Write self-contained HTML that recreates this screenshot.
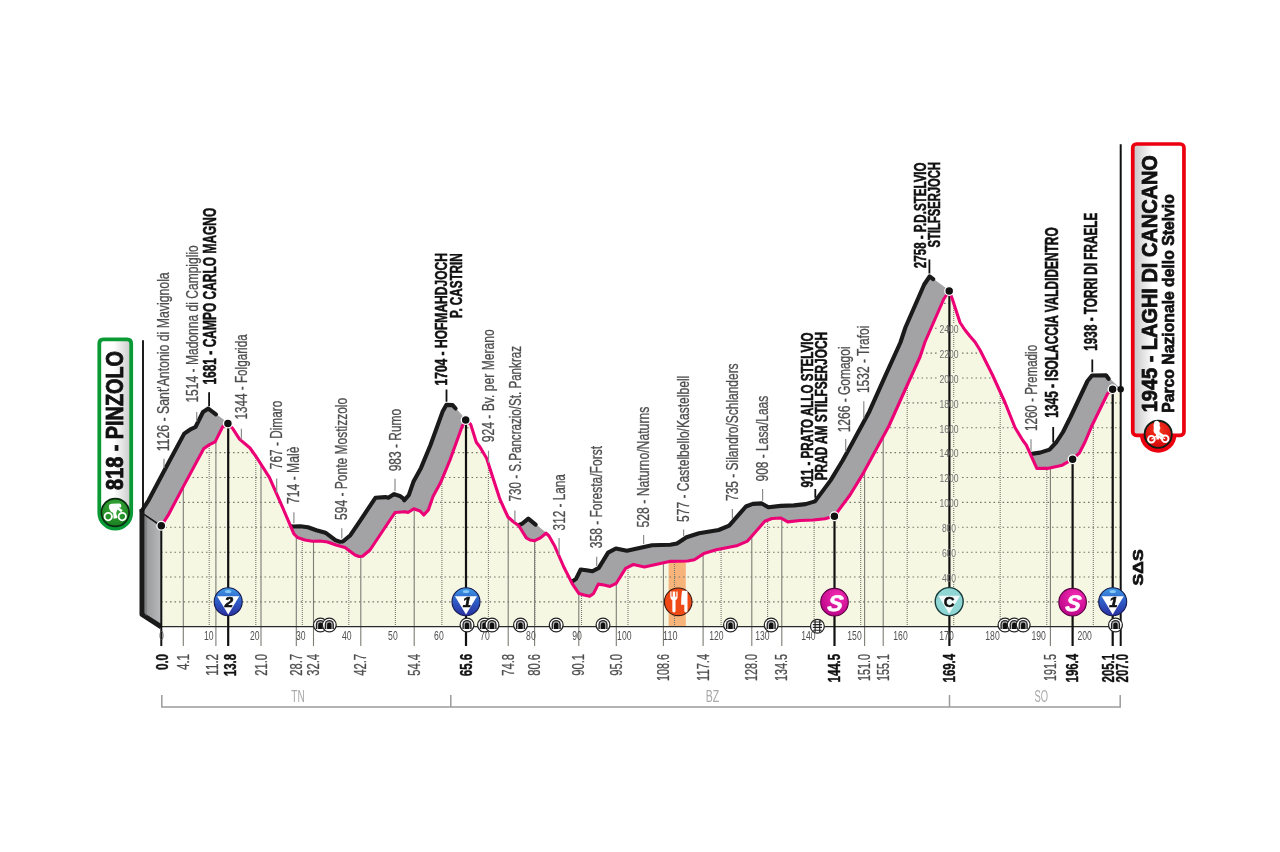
<!DOCTYPE html>
<html lang="it"><head><meta charset="utf-8"><title>Pinzolo - Laghi di Cancano</title>
<style>
html,body{margin:0;padding:0;background:#fff;}
body{width:1280px;height:852px;overflow:hidden;}
svg{display:block;}
text{font-family:"Liberation Sans",sans-serif;}
.b{font-weight:bold;}
</style></head><body>
<svg width="1280" height="852" viewBox="0 0 1280 852">
<defs>
<linearGradient id="gKom" x1="0" y1="0" x2="0" y2="1"><stop offset="0" stop-color="#3f9be6"/><stop offset="0.45" stop-color="#2f5fc8"/><stop offset="1" stop-color="#2a2fa0"/></linearGradient>
<radialGradient id="gSpr" cx="0.6" cy="0.3" r="0.8"><stop offset="0" stop-color="#f52cb4"/><stop offset="1" stop-color="#b50083"/></radialGradient>
<linearGradient id="gWall" x1="0" y1="0" x2="1" y2="0"><stop offset="0" stop-color="#8f9092"/><stop offset="1" stop-color="#b9babc"/></linearGradient>
<linearGradient id="gGreen" x1="0" y1="0" x2="1" y2="0"><stop offset="0" stop-color="#ffffff"/><stop offset="0.45" stop-color="#ffffff"/><stop offset="1" stop-color="#c9c9c9"/></linearGradient>
<linearGradient id="gRed" x1="0" y1="0" x2="1" y2="0"><stop offset="0" stop-color="#c4c4c4"/><stop offset="0.4" stop-color="#ffffff"/><stop offset="1" stop-color="#ffffff"/></linearGradient>
<radialGradient id="gGc" cx="0.5" cy="0.35" r="0.7"><stop offset="0" stop-color="#3cae3c"/><stop offset="1" stop-color="#157a1c"/></radialGradient>
<radialGradient id="gRc" cx="0.5" cy="0.35" r="0.7"><stop offset="0" stop-color="#f43a1c"/><stop offset="1" stop-color="#d4000c"/></radialGradient>

<clipPath id="face"><polygon points="161.3,525.8 168.2,515.2 184.1,485.1 203.8,448.5 209.5,444.6 215.1,441.9 222.6,426.9 227.9,423.4 232.9,428.8 239.5,439.1 250.0,448.0 256.4,457.0 269.5,477.6 282.7,507.7 293.9,533.9 297.5,537.5 305.0,540.0 312.5,541.3 320.0,541.0 327.5,542.0 336.0,545.0 345.0,547.5 355.0,555.0 359.0,556.5 362.5,556.3 370.0,550.0 380.0,535.0 395.0,512.5 405.0,511.8 408.0,512.5 413.8,508.8 420.0,511.0 423.8,515.0 428.4,509.9 433.0,496.5 440.6,482.6 450.0,460.0 462.2,426.3 465.7,420.0 465.7,420.0 470.7,424.4 476.3,442.3 480.0,447.0 486.6,458.2 495.1,484.5 500.0,499.4 504.5,509.5 508.0,517.0 513.0,521.5 518.8,525.7 526.3,537.9 530.0,540.0 534.7,540.7 540.4,537.9 546.0,533.2 549.0,536.0 554.4,545.4 563.8,567.0 572.5,584.1 578.8,593.4 584.0,595.0 589.7,596.2 593.6,593.4 598.3,584.1 604.0,585.0 610.0,586.4 616.3,583.3 625.6,568.4 633.4,564.5 644.4,566.9 669.4,561.4 687.7,561.0 694.4,559.8 703.8,553.6 716.3,549.7 736.6,545.8 747.5,541.1 755.0,532.5 764.8,521.3 772.0,518.5 781.0,518.0 787.7,521.9 800.0,520.5 813.4,520.0 825.0,518.7 834.4,516.0 850.0,495.0 862.0,475.4 868.8,463.0 888.9,426.0 905.0,390.0 920.0,357.0 925.0,342.0 943.8,299.0 949.2,291.0 952.0,298.0 960.0,322.5 965.0,330.0 970.0,336.3 975.0,342.0 980.0,350.0 992.5,375.0 1005.0,402.5 1015.0,427.5 1022.9,440.5 1026.3,445.0 1036.8,468.4 1047.5,468.4 1062.3,465.2 1072.6,459.2 1079.5,452.8 1085.0,442.0 1091.9,425.7 1107.5,393.7 1112.5,389.3 1120.7,389.3 1120.7,626.5 161.3,626.5"/></clipPath>
<g id="tun"><circle r="6.9" fill="#fff" stroke="#222" stroke-width="1.25"/>
<path d="M-4.6 4.1V-0.4A4.6 4.6 0 0 1 4.6 -0.4V4.1Z" fill="#222"/>
<path d="M-3.3 4.1V-0.4A3.3 3.3 0 0 1 3.3 -0.4V4.1Z" fill="#b4b4b4"/>
<path d="M-2.2 4.1V-0.2A2.2 2.2 0 0 1 2.2 -0.2V4.1Z" fill="#111"/></g>
<g id="kom"><circle r="14" fill="url(#gKom)" stroke="#141a50" stroke-width="1.1"/>
<ellipse cx="0" cy="-10.3" rx="3.2" ry="1.6" fill="#8fd0f8" opacity="0.9"/>
<path d="M-11 -5.6H11L0 12.8Z" fill="#fff"/></g>

</defs>
<path d="M141.7 510.9 L148.6 500.3 L168.2 515.2 L161.3 525.8Z M148.6 500.3 L164.5 470.2 L184.1 485.1 L168.2 515.2Z M164.5 470.2 L184.2 433.6 L203.8 448.5 L184.1 485.1Z M184.2 433.6 L189.9 429.7 L209.5 444.6 L203.8 448.5Z M189.9 429.7 L195.5 427.0 L215.1 441.9 L209.5 444.6Z M195.5 427.0 L203.0 412.0 L222.6 426.9 L215.1 441.9Z M203.0 412.0 L208.3 408.6 L227.9 423.4 L222.6 426.9Z M227.9 423.4 L232.9 428.8 L213.3 414.0 L208.3 408.6Z M232.9 428.8 L239.5 439.1 L219.9 424.3 L213.3 414.0Z M239.5 439.1 L250.0 448.0 L230.4 433.2 L219.9 424.3Z M250.0 448.0 L256.4 457.0 L236.8 442.2 L230.4 433.2Z M256.4 457.0 L269.5 477.6 L249.9 462.8 L236.8 442.2Z M269.5 477.6 L282.7 507.7 L263.1 492.9 L249.9 462.8Z M282.7 507.7 L293.9 533.9 L274.3 519.1 L263.1 492.9Z M293.9 533.9 L297.5 537.5 L277.9 522.7 L274.3 519.1Z M277.9 522.7 L285.4 525.2 L305.0 540.0 L297.5 537.5Z M285.4 525.2 L292.9 526.5 L312.5 541.3 L305.0 540.0Z M292.9 526.5 L300.4 526.2 L320.0 541.0 L312.5 541.3Z M300.4 526.2 L307.9 527.2 L327.5 542.0 L320.0 541.0Z M307.9 527.2 L316.4 530.2 L336.0 545.0 L327.5 542.0Z M316.4 530.2 L325.4 532.7 L345.0 547.5 L336.0 545.0Z M325.4 532.7 L335.4 540.2 L355.0 555.0 L345.0 547.5Z M335.4 540.2 L339.4 541.7 L359.0 556.5 L355.0 555.0Z M339.4 541.7 L342.9 541.5 L362.5 556.3 L359.0 556.5Z M342.9 541.5 L350.4 535.2 L370.0 550.0 L362.5 556.3Z M350.4 535.2 L360.4 520.3 L380.0 535.0 L370.0 550.0Z M360.4 520.3 L375.4 497.8 L395.0 512.5 L380.0 535.0Z M375.4 497.8 L385.4 497.1 L405.0 511.8 L395.0 512.5Z M385.4 497.1 L388.4 497.8 L408.0 512.5 L405.0 511.8Z M388.4 497.8 L394.2 494.1 L413.8 508.8 L408.0 512.5Z M394.2 494.1 L400.4 496.3 L420.0 511.0 L413.8 508.8Z M420.0 511.0 L423.8 515.0 L404.2 500.3 L400.4 496.3Z M404.2 500.3 L408.8 495.2 L428.4 509.9 L423.8 515.0Z M408.8 495.2 L413.4 481.8 L433.0 496.5 L428.4 509.9Z M413.4 481.8 L421.0 467.9 L440.6 482.6 L433.0 496.5Z M421.0 467.9 L430.4 445.3 L450.0 460.0 L440.6 482.6Z M430.4 445.3 L442.6 411.6 L462.2 426.3 L450.0 460.0Z M442.6 411.6 L446.3 404.9 L465.7 420.0 L462.2 426.3Z M446.3 404.9 L452.6 405.1 L465.7 420.0 L465.7 420.0Z M465.7 420.0 L470.7 424.4 L451.1 409.7 L452.6 405.1Z M470.7 424.4 L476.3 442.3 L456.7 427.6 L451.1 409.7Z M476.3 442.3 L480.0 447.0 L460.4 432.3 L456.7 427.6Z M480.0 447.0 L486.6 458.2 L467.0 443.5 L460.4 432.3Z M486.6 458.2 L495.1 484.5 L475.7 469.8 L467.0 443.5Z M495.1 484.5 L500.0 499.4 L480.8 484.7 L475.7 469.8Z M500.0 499.4 L504.5 509.5 L485.5 494.8 L480.8 484.7Z M504.5 509.5 L508.0 517.0 L489.1 502.3 L485.5 494.8Z M508.0 517.0 L513.0 521.5 L494.3 506.8 L489.1 502.3Z M494.3 506.8 L500.3 511.0 L518.8 525.7 L513.0 521.5Z M518.8 525.7 L526.3 537.9 L508.1 523.3 L500.3 511.0Z M508.1 523.3 L511.9 525.4 L530.0 540.0 L526.3 537.9Z M511.9 525.4 L516.8 526.1 L534.7 540.7 L530.0 540.0Z M516.8 526.1 L522.7 523.3 L540.4 537.9 L534.7 540.7Z M522.7 523.3 L528.3 518.6 L546.0 533.2 L540.4 537.9Z M546.0 533.2 L549.0 536.0 L531.3 521.4 L528.3 518.6Z M549.0 536.0 L554.4 545.4 L536.7 530.8 L531.3 521.4Z M554.4 545.4 L563.8 567.0 L546.2 552.4 L536.7 530.8Z M563.8 567.0 L572.5 584.1 L554.9 569.5 L546.2 552.4Z M572.5 584.1 L578.8 593.4 L561.2 578.8 L554.9 569.5Z M561.2 578.8 L566.4 580.4 L584.0 595.0 L578.8 593.4Z M566.4 580.4 L572.1 581.6 L589.7 596.2 L584.0 595.0Z M572.1 581.6 L576.0 578.8 L593.6 593.4 L589.7 596.2Z M576.0 578.8 L580.7 569.5 L598.3 584.1 L593.6 593.4Z M580.7 569.5 L586.4 570.2 L604.0 585.0 L598.3 584.1Z M586.4 570.2 L592.5 571.3 L610.0 586.4 L604.0 585.0Z M592.5 571.3 L598.8 567.9 L616.3 583.3 L610.0 586.4Z M598.8 567.9 L608.1 552.6 L625.6 568.4 L616.3 583.3Z M608.1 552.6 L615.9 548.5 L633.4 564.5 L625.6 568.4Z M615.9 548.5 L626.9 550.8 L644.4 566.9 L633.4 564.5Z M626.9 550.8 L652.0 545.2 L669.4 561.4 L644.4 566.9Z M652.0 545.2 L670.3 544.7 L687.7 561.0 L669.4 561.4Z M670.3 544.7 L677.0 543.5 L694.4 559.8 L687.7 561.0Z M677.0 543.5 L686.5 537.3 L703.8 553.6 L694.4 559.8Z M686.5 537.3 L699.0 533.3 L716.3 549.7 L703.8 553.6Z M699.0 533.3 L718.7 530.0 L736.6 545.8 L716.3 549.7Z M718.7 530.0 L729.2 525.7 L747.5 541.1 L736.6 545.8Z M729.2 525.7 L736.4 517.4 L755.0 532.5 L747.5 541.1Z M736.4 517.4 L745.9 506.5 L764.8 521.3 L755.0 532.5Z M745.9 506.5 L752.8 503.9 L772.0 518.5 L764.8 521.3Z M752.8 503.9 L761.7 503.4 L781.0 518.0 L772.0 518.5Z M761.7 503.4 L768.4 507.3 L787.7 521.9 L781.0 518.0Z M768.4 507.3 L780.7 505.9 L800.0 520.5 L787.7 521.9Z M780.7 505.9 L794.0 505.4 L813.4 520.0 L800.0 520.5Z M794.0 505.4 L805.6 504.1 L825.0 518.7 L813.4 520.0Z M805.6 504.1 L815.0 501.4 L834.4 516.0 L825.0 518.7Z M815.0 501.4 L830.6 480.4 L850.0 495.0 L834.4 516.0Z M830.6 480.4 L842.5 460.8 L862.0 475.4 L850.0 495.0Z M842.5 460.8 L849.3 448.4 L868.8 463.0 L862.0 475.4Z M849.3 448.4 L869.4 411.4 L888.9 426.0 L868.8 463.0Z M869.4 411.4 L885.5 375.4 L905.0 390.0 L888.9 426.0Z M885.5 375.4 L900.4 342.5 L920.0 357.0 L905.0 390.0Z M900.4 342.5 L905.4 327.5 L925.0 342.0 L920.0 357.0Z M905.4 327.5 L924.2 284.5 L943.8 299.0 L925.0 342.0Z M924.2 284.5 L929.6 276.5 L949.2 291.0 L943.8 299.0Z M949.2 291.0 L952.0 298.0 L932.4 283.5 L929.6 276.5Z M952.0 298.0 L960.0 322.5 L940.4 308.0 L932.4 283.5Z M960.0 322.5 L965.0 330.0 L945.3 315.5 L940.4 308.0Z M965.0 330.0 L970.0 336.3 L950.3 321.8 L945.3 315.5Z M970.0 336.3 L975.0 342.0 L955.3 327.5 L950.3 321.8Z M975.0 342.0 L980.0 350.0 L960.3 335.5 L955.3 327.5Z M980.0 350.0 L992.5 375.0 L972.8 360.5 L960.3 335.5Z M992.5 375.0 L1005.0 402.5 L985.3 388.0 L972.8 360.5Z M1005.0 402.5 L1015.0 427.5 L995.2 413.0 L985.3 388.0Z M1015.0 427.5 L1022.9 440.5 L1003.1 426.0 L995.2 413.0Z M1022.9 440.5 L1026.3 445.0 L1006.5 430.5 L1003.1 426.0Z M1026.3 445.0 L1036.8 468.4 L1017.0 453.9 L1006.5 430.5Z M1017.0 453.9 L1027.3 454.5 L1047.5 468.4 L1036.8 468.4Z M1027.3 454.5 L1040.0 452.6 L1062.3 465.2 L1047.5 468.4Z M1040.0 452.6 L1049.5 449.6 L1072.6 459.2 L1062.3 465.2Z M1049.5 449.6 L1056.5 442.0 L1079.5 452.8 L1072.6 459.2Z M1056.5 442.0 L1063.0 432.0 L1085.0 442.0 L1079.5 452.8Z M1063.0 432.0 L1070.5 417.0 L1091.9 425.7 L1085.0 442.0Z M1070.5 417.0 L1087.5 381.0 L1107.5 393.7 L1091.9 425.7Z M1087.5 381.0 L1092.0 375.5 L1112.5 389.3 L1107.5 393.7Z M1092.0 375.5 L1106.0 375.2 L1120.7 389.3 L1112.5 389.3Z" fill="#a3a3a5" stroke="#a3a3a5" stroke-width="0.7" stroke-linejoin="round"/>
<polyline points="141.7,510.9 148.6,500.3 164.5,470.2 184.2,433.6 189.9,429.7 195.5,427.0 203.0,412.0 208.3,408.6 215.9,414.3" fill="none" stroke="#1a1a1a" stroke-width="4.1" stroke-linejoin="round" stroke-linecap="round"/>
<polyline points="277.9,522.7 285.4,525.2 292.9,526.5 300.4,526.2 307.9,527.2 316.4,530.2 325.4,532.7 335.4,540.2 339.4,541.7 342.9,541.5 350.4,535.2 360.4,520.3 375.4,497.8 385.4,497.1 388.4,497.8 394.2,494.1 400.4,496.3 404.0,499.0" fill="none" stroke="#1a1a1a" stroke-width="4.1" stroke-linejoin="round" stroke-linecap="round"/>
<polyline points="404.2,500.3 408.8,495.2 413.4,481.8 421.0,467.9 430.4,445.3 442.6,411.6 446.3,404.9 452.6,405.1 455.6,408.5" fill="none" stroke="#1a1a1a" stroke-width="4.1" stroke-linejoin="round" stroke-linecap="round"/>
<polyline points="494.3,506.8 500.3,511.0 503.8,513.8" fill="none" stroke="#1a1a1a" stroke-width="4.1" stroke-linejoin="round" stroke-linecap="round"/>
<polyline points="508.1,523.3 511.9,525.4 516.8,526.1 522.7,523.3 528.3,518.6 535.6,524.6" fill="none" stroke="#1a1a1a" stroke-width="4.1" stroke-linejoin="round" stroke-linecap="round"/>
<polyline points="561.2,578.8 566.4,580.4 572.1,581.6 576.0,578.8 580.7,569.5 586.4,570.2 592.5,571.3 598.8,567.9 608.1,552.6 615.9,548.5 626.9,550.8 652.0,545.2 670.3,544.7 677.0,543.5 686.5,537.3 699.0,533.3 718.7,530.0 729.2,525.7 736.4,517.4 745.9,506.5 752.8,503.9 761.7,503.4 768.4,507.3 780.7,505.9 794.0,505.4 805.6,504.1 815.0,501.4 830.6,480.4 842.5,460.8 849.3,448.4 869.4,411.4 885.5,375.4 900.4,342.5 905.4,327.5 924.2,284.5 929.6,276.5 933.2,279.1" fill="none" stroke="#1a1a1a" stroke-width="4.1" stroke-linejoin="round" stroke-linecap="round"/>
<polyline points="1017.0,453.9 1027.3,454.5 1040.0,452.6 1049.5,449.6 1056.5,442.0 1063.0,432.0 1070.5,417.0 1087.5,381.0 1092.0,375.5 1106.0,375.2 1108.6,378.8" fill="none" stroke="#1a1a1a" stroke-width="4.1" stroke-linejoin="round" stroke-linecap="round"/>
<polygon points="141.7,511.5 161.3,525.8 161.3,626.5 141.7,613.5" fill="url(#gWall)"/>
<polyline points="161.3,626.8 142,614.5 142,509" fill="none" stroke="#1a1a1a" stroke-width="5" stroke-linejoin="round"/>
<line x1="143" y1="513.6" x2="160" y2="525.2" stroke="#1a1a1a" stroke-width="1.7"/>
<line x1="146" y1="517" x2="146" y2="615.5" stroke="#6e6f71" stroke-width="1"/>
<polygon points="161.3,525.8 168.2,515.2 184.1,485.1 203.8,448.5 209.5,444.6 215.1,441.9 222.6,426.9 227.9,423.4 232.9,428.8 239.5,439.1 250.0,448.0 256.4,457.0 269.5,477.6 282.7,507.7 293.9,533.9 297.5,537.5 305.0,540.0 312.5,541.3 320.0,541.0 327.5,542.0 336.0,545.0 345.0,547.5 355.0,555.0 359.0,556.5 362.5,556.3 370.0,550.0 380.0,535.0 395.0,512.5 405.0,511.8 408.0,512.5 413.8,508.8 420.0,511.0 423.8,515.0 428.4,509.9 433.0,496.5 440.6,482.6 450.0,460.0 462.2,426.3 465.7,420.0 465.7,420.0 470.7,424.4 476.3,442.3 480.0,447.0 486.6,458.2 495.1,484.5 500.0,499.4 504.5,509.5 508.0,517.0 513.0,521.5 518.8,525.7 526.3,537.9 530.0,540.0 534.7,540.7 540.4,537.9 546.0,533.2 549.0,536.0 554.4,545.4 563.8,567.0 572.5,584.1 578.8,593.4 584.0,595.0 589.7,596.2 593.6,593.4 598.3,584.1 604.0,585.0 610.0,586.4 616.3,583.3 625.6,568.4 633.4,564.5 644.4,566.9 669.4,561.4 687.7,561.0 694.4,559.8 703.8,553.6 716.3,549.7 736.6,545.8 747.5,541.1 755.0,532.5 764.8,521.3 772.0,518.5 781.0,518.0 787.7,521.9 800.0,520.5 813.4,520.0 825.0,518.7 834.4,516.0 850.0,495.0 862.0,475.4 868.8,463.0 888.9,426.0 905.0,390.0 920.0,357.0 925.0,342.0 943.8,299.0 949.2,291.0 952.0,298.0 960.0,322.5 965.0,330.0 970.0,336.3 975.0,342.0 980.0,350.0 992.5,375.0 1005.0,402.5 1015.0,427.5 1022.9,440.5 1026.3,445.0 1036.8,468.4 1047.5,468.4 1062.3,465.2 1072.6,459.2 1079.5,452.8 1085.0,442.0 1091.9,425.7 1107.5,393.7 1112.5,389.3 1120.7,389.3 1120.7,626.5 161.3,626.5" fill="#f6f7e2"/>
<g clip-path="url(#face)"><rect x="668.6" y="500" width="17.2" height="130" fill="#f6b47a"/></g>
<g clip-path="url(#face)" stroke="#77786e" fill="none">
<path d="M161 601.9H1121 M161 577.0H1121 M161 552.2H1121 M161 527.3H1121 M161 502.4H1121 M161 477.5H1121 M161 452.6H1121 M161 427.8H1121 M161 402.9H1121 M161 378.0H1121 M161 353.1H1121 M161 328.2H1121 M161 303.4H1121" stroke-width="1.1" stroke-dasharray="1.6 2.9"/>
<path d="M209.2 280V626 M255.8 280V626 M302.3 280V626 M348.8 280V626 M395.4 280V626 M441.9 280V626 M488.4 280V626 M534.9 280V626 M581.5 280V626 M628.0 280V626 M674.5 280V626 M721.1 280V626 M767.6 280V626 M814.1 280V626 M860.7 280V626 M907.2 280V626 M953.7 280V626 M1000.2 280V626 M1046.8 280V626 M1093.3 280V626" stroke-width="1.1" stroke-dasharray="1 1"/>
</g>
<path d="M183.3 486.6V646 M215.9 440.3V646 M261.0 464.2V646 M296.3 536.3V646 M313.5 541.3V646 M360.8 556.4V646 M414.2 509.0V646 M508.2 517.2V646 M534.6 540.7V646 M578.8 593.3V646 M616.3 583.3V646 M663.4 562.7V646 M703.1 554.1V646 M751.8 536.2V646 M781.8 518.4V646 M864.6 470.7V646 M883.2 436.4V646 M1050.4 467.8V646" stroke="#7c7d76" stroke-width="1.1" fill="none"/>
<line x1="161" y1="626.5" x2="1113" y2="626.5" stroke="#2a2a2a" stroke-width="1.25"/>
<rect x="939.8" y="572.5" width="18.5" height="9" fill="#f6f7e2"/>
<rect x="939.8" y="547.7" width="18.5" height="9" fill="#f6f7e2"/>
<rect x="939.8" y="522.8" width="18.5" height="9" fill="#f6f7e2"/>
<rect x="937.2" y="497.9" width="23.5" height="9" fill="#f6f7e2"/>
<rect x="937.2" y="473.0" width="23.5" height="9" fill="#f6f7e2"/>
<rect x="937.2" y="448.1" width="23.5" height="9" fill="#f6f7e2"/>
<rect x="937.2" y="423.3" width="23.5" height="9" fill="#f6f7e2"/>
<rect x="937.2" y="398.4" width="23.5" height="9" fill="#f6f7e2"/>
<rect x="937.2" y="373.5" width="23.5" height="9" fill="#f6f7e2"/>
<rect x="937.2" y="348.6" width="23.5" height="9" fill="#f6f7e2"/>
<rect x="937.2" y="323.7" width="23.5" height="9" fill="#f6f7e2"/>
<path d="M228.2 423.7V646 M466.0 420.3V646 M834.5 515.9V646 M949.4 291.5V646 M1072.6 459.2V646 M1112.7 389.3V646" stroke="#111" stroke-width="2.2" fill="none"/>
<line x1="161.3" y1="525.8" x2="161.3" y2="646" stroke="#111" stroke-width="2"/>
<line x1="1120.7" y1="144.3" x2="1120.7" y2="646" stroke="#111" stroke-width="2"/>
<line x1="143" y1="340.2" x2="143" y2="512" stroke="#111" stroke-width="1.9"/>
<text x="949" y="581.7" font-size="11.2" fill="#707070" text-anchor="middle" textLength="14.2" lengthAdjust="spacingAndGlyphs">400</text>
<text x="949" y="556.9" font-size="11.2" fill="#707070" text-anchor="middle" textLength="14.2" lengthAdjust="spacingAndGlyphs">600</text>
<text x="949" y="532.0" font-size="11.2" fill="#707070" text-anchor="middle" textLength="14.2" lengthAdjust="spacingAndGlyphs">800</text>
<text x="949" y="507.1" font-size="11.2" fill="#707070" text-anchor="middle" textLength="19.2" lengthAdjust="spacingAndGlyphs">1000</text>
<text x="949" y="482.2" font-size="11.2" fill="#707070" text-anchor="middle" textLength="19.2" lengthAdjust="spacingAndGlyphs">1200</text>
<text x="949" y="457.3" font-size="11.2" fill="#707070" text-anchor="middle" textLength="19.2" lengthAdjust="spacingAndGlyphs">1400</text>
<text x="949" y="432.5" font-size="11.2" fill="#707070" text-anchor="middle" textLength="19.2" lengthAdjust="spacingAndGlyphs">1600</text>
<text x="949" y="407.6" font-size="11.2" fill="#707070" text-anchor="middle" textLength="19.2" lengthAdjust="spacingAndGlyphs">1800</text>
<text x="949" y="382.7" font-size="11.2" fill="#707070" text-anchor="middle" textLength="19.2" lengthAdjust="spacingAndGlyphs">2000</text>
<text x="949" y="357.8" font-size="11.2" fill="#707070" text-anchor="middle" textLength="19.2" lengthAdjust="spacingAndGlyphs">2200</text>
<text x="949" y="332.9" font-size="11.2" fill="#707070" text-anchor="middle" textLength="19.2" lengthAdjust="spacingAndGlyphs">2400</text>
<polyline points="161.3,525.8 168.2,515.2 184.1,485.1 203.8,448.5 209.5,444.6 215.1,441.9 222.6,426.9 227.9,423.4 232.9,428.8 239.5,439.1 250.0,448.0 256.4,457.0 269.5,477.6 282.7,507.7 293.9,533.9 297.5,537.5 305.0,540.0 312.5,541.3 320.0,541.0 327.5,542.0 336.0,545.0 345.0,547.5 355.0,555.0 359.0,556.5 362.5,556.3 370.0,550.0 380.0,535.0 395.0,512.5 405.0,511.8 408.0,512.5 413.8,508.8 420.0,511.0 423.8,515.0 428.4,509.9 433.0,496.5 440.6,482.6 450.0,460.0 462.2,426.3 465.7,420.0 465.7,420.0 470.7,424.4 476.3,442.3 480.0,447.0 486.6,458.2 495.1,484.5 500.0,499.4 504.5,509.5 508.0,517.0 513.0,521.5 518.8,525.7 526.3,537.9 530.0,540.0 534.7,540.7 540.4,537.9 546.0,533.2 549.0,536.0 554.4,545.4 563.8,567.0 572.5,584.1 578.8,593.4 584.0,595.0 589.7,596.2 593.6,593.4 598.3,584.1 604.0,585.0 610.0,586.4 616.3,583.3 625.6,568.4 633.4,564.5 644.4,566.9 669.4,561.4 687.7,561.0 694.4,559.8 703.8,553.6 716.3,549.7 736.6,545.8 747.5,541.1 755.0,532.5 764.8,521.3 772.0,518.5 781.0,518.0 787.7,521.9 800.0,520.5 813.4,520.0 825.0,518.7 834.4,516.0 850.0,495.0 862.0,475.4 868.8,463.0 888.9,426.0 905.0,390.0 920.0,357.0 925.0,342.0 943.8,299.0 949.2,291.0 952.0,298.0 960.0,322.5 965.0,330.0 970.0,336.3 975.0,342.0 980.0,350.0 992.5,375.0 1005.0,402.5 1015.0,427.5 1022.9,440.5 1026.3,445.0 1036.8,468.4 1047.5,468.4 1062.3,465.2 1072.6,459.2 1079.5,452.8 1085.0,442.0 1091.9,425.7 1107.5,393.7 1112.5,389.3" fill="none" stroke="#ec0076" stroke-width="3.1" stroke-linejoin="round" stroke-linecap="round"/>
<circle cx="161.3" cy="525.8" r="4.4" fill="#111" stroke="#fff" stroke-width="1.3"/>
<circle cx="227.9" cy="423.4" r="4.4" fill="#111" stroke="#fff" stroke-width="1.3"/>
<circle cx="465.7" cy="420.0" r="4.4" fill="#111" stroke="#fff" stroke-width="1.3"/>
<circle cx="834.4" cy="516.3" r="4.4" fill="#111" stroke="#fff" stroke-width="1.3"/>
<circle cx="949.2" cy="291.0" r="4.4" fill="#111" stroke="#fff" stroke-width="1.3"/>
<circle cx="1072.6" cy="459.2" r="4.4" fill="#111" stroke="#fff" stroke-width="1.3"/>
<circle cx="1112.6" cy="389.3" r="4.4" fill="#111" stroke="#fff" stroke-width="1.3"/>
<circle cx="1120.7" cy="389.3" r="3.2" fill="#111"/>
<text x="161.6" y="639.5" font-size="12" fill="#505050" text-anchor="middle" textLength="4.6" lengthAdjust="spacingAndGlyphs">0</text>
<text x="208.7" y="639.5" font-size="12" fill="#505050" text-anchor="middle" textLength="9.6" lengthAdjust="spacingAndGlyphs">10</text>
<text x="254.8" y="639.5" font-size="12" fill="#505050" text-anchor="middle" textLength="9.6" lengthAdjust="spacingAndGlyphs">20</text>
<text x="300.8" y="639.5" font-size="12" fill="#505050" text-anchor="middle" textLength="9.6" lengthAdjust="spacingAndGlyphs">30</text>
<text x="346.8" y="639.5" font-size="12" fill="#505050" text-anchor="middle" textLength="9.6" lengthAdjust="spacingAndGlyphs">40</text>
<text x="392.9" y="639.5" font-size="12" fill="#505050" text-anchor="middle" textLength="9.6" lengthAdjust="spacingAndGlyphs">50</text>
<text x="438.9" y="639.5" font-size="12" fill="#505050" text-anchor="middle" textLength="9.6" lengthAdjust="spacingAndGlyphs">60</text>
<text x="484.9" y="639.5" font-size="12" fill="#505050" text-anchor="middle" textLength="9.6" lengthAdjust="spacingAndGlyphs">70</text>
<text x="530.9" y="639.5" font-size="12" fill="#505050" text-anchor="middle" textLength="9.6" lengthAdjust="spacingAndGlyphs">80</text>
<text x="577.0" y="639.5" font-size="12" fill="#505050" text-anchor="middle" textLength="9.6" lengthAdjust="spacingAndGlyphs">90</text>
<text x="624.3" y="639.5" font-size="12" fill="#505050" text-anchor="middle" textLength="14.4" lengthAdjust="spacingAndGlyphs">100</text>
<text x="670.3" y="639.5" font-size="12" fill="#505050" text-anchor="middle" textLength="14.4" lengthAdjust="spacingAndGlyphs">110</text>
<text x="716.4" y="639.5" font-size="12" fill="#505050" text-anchor="middle" textLength="14.4" lengthAdjust="spacingAndGlyphs">120</text>
<text x="762.4" y="639.5" font-size="12" fill="#505050" text-anchor="middle" textLength="14.4" lengthAdjust="spacingAndGlyphs">130</text>
<text x="808.4" y="639.5" font-size="12" fill="#505050" text-anchor="middle" textLength="14.4" lengthAdjust="spacingAndGlyphs">140</text>
<text x="854.5" y="639.5" font-size="12" fill="#505050" text-anchor="middle" textLength="14.4" lengthAdjust="spacingAndGlyphs">150</text>
<text x="900.5" y="639.5" font-size="12" fill="#505050" text-anchor="middle" textLength="14.4" lengthAdjust="spacingAndGlyphs">160</text>
<text x="946.5" y="639.5" font-size="12" fill="#505050" text-anchor="middle" textLength="14.4" lengthAdjust="spacingAndGlyphs">170</text>
<text x="992.5" y="639.5" font-size="12" fill="#505050" text-anchor="middle" textLength="14.4" lengthAdjust="spacingAndGlyphs">180</text>
<text x="1038.6" y="639.5" font-size="12" fill="#505050" text-anchor="middle" textLength="14.4" lengthAdjust="spacingAndGlyphs">190</text>
<text x="1084.6" y="639.5" font-size="12" fill="#505050" text-anchor="middle" textLength="14.4" lengthAdjust="spacingAndGlyphs">200</text>
<text transform="translate(167.5 670.1) rotate(-90)" font-size="17.3" fill="#111" stroke="#111" stroke-width="0.45" class="b" textLength="16.2" lengthAdjust="spacingAndGlyphs">0.0</text>
<text transform="translate(189.3 670.1) rotate(-90)" font-size="17.3" fill="#4d4d4d" stroke="#4d4d4d" stroke-width="0.30" textLength="16.2" lengthAdjust="spacingAndGlyphs">4.1</text>
<text transform="translate(218.2 675.7) rotate(-90)" font-size="17.3" fill="#4d4d4d" stroke="#4d4d4d" stroke-width="0.30" textLength="21.8" lengthAdjust="spacingAndGlyphs">11.2</text>
<text transform="translate(236.2 676.2) rotate(-90)" font-size="17.3" fill="#111" stroke="#111" stroke-width="0.45" class="b" textLength="22.3" lengthAdjust="spacingAndGlyphs">13.8</text>
<text transform="translate(266.6 675.7) rotate(-90)" font-size="17.3" fill="#4d4d4d" stroke="#4d4d4d" stroke-width="0.30" textLength="21.8" lengthAdjust="spacingAndGlyphs">21.0</text>
<text transform="translate(301.9 675.7) rotate(-90)" font-size="17.3" fill="#4d4d4d" stroke="#4d4d4d" stroke-width="0.30" textLength="21.8" lengthAdjust="spacingAndGlyphs">28.7</text>
<text transform="translate(319.1 675.7) rotate(-90)" font-size="17.3" fill="#4d4d4d" stroke="#4d4d4d" stroke-width="0.30" textLength="21.8" lengthAdjust="spacingAndGlyphs">32.4</text>
<text transform="translate(366.4 675.7) rotate(-90)" font-size="17.3" fill="#4d4d4d" stroke="#4d4d4d" stroke-width="0.30" textLength="21.8" lengthAdjust="spacingAndGlyphs">42.7</text>
<text transform="translate(419.9 675.7) rotate(-90)" font-size="17.3" fill="#4d4d4d" stroke="#4d4d4d" stroke-width="0.30" textLength="21.8" lengthAdjust="spacingAndGlyphs">54.4</text>
<text transform="translate(471.6 676.2) rotate(-90)" font-size="17.3" fill="#111" stroke="#111" stroke-width="0.45" class="b" textLength="22.3" lengthAdjust="spacingAndGlyphs">65.6</text>
<text transform="translate(513.9 675.7) rotate(-90)" font-size="17.3" fill="#4d4d4d" stroke="#4d4d4d" stroke-width="0.30" textLength="21.8" lengthAdjust="spacingAndGlyphs">74.8</text>
<text transform="translate(540.2 675.7) rotate(-90)" font-size="17.3" fill="#4d4d4d" stroke="#4d4d4d" stroke-width="0.30" textLength="21.8" lengthAdjust="spacingAndGlyphs">80.6</text>
<text transform="translate(584.4 675.7) rotate(-90)" font-size="17.3" fill="#4d4d4d" stroke="#4d4d4d" stroke-width="0.30" textLength="21.8" lengthAdjust="spacingAndGlyphs">90.1</text>
<text transform="translate(621.9 675.7) rotate(-90)" font-size="17.3" fill="#4d4d4d" stroke="#4d4d4d" stroke-width="0.30" textLength="21.8" lengthAdjust="spacingAndGlyphs">95.0</text>
<text transform="translate(669.0 680.9) rotate(-90)" font-size="17.3" fill="#4d4d4d" stroke="#4d4d4d" stroke-width="0.30" textLength="27.0" lengthAdjust="spacingAndGlyphs">108.6</text>
<text transform="translate(708.7 680.9) rotate(-90)" font-size="17.3" fill="#4d4d4d" stroke="#4d4d4d" stroke-width="0.30" textLength="27.0" lengthAdjust="spacingAndGlyphs">117.4</text>
<text transform="translate(757.4 680.9) rotate(-90)" font-size="17.3" fill="#4d4d4d" stroke="#4d4d4d" stroke-width="0.30" textLength="27.0" lengthAdjust="spacingAndGlyphs">128.0</text>
<text transform="translate(787.4 680.9) rotate(-90)" font-size="17.3" fill="#4d4d4d" stroke="#4d4d4d" stroke-width="0.30" textLength="27.0" lengthAdjust="spacingAndGlyphs">134.5</text>
<text transform="translate(840.1 682.4) rotate(-90)" font-size="17.3" fill="#111" stroke="#111" stroke-width="0.45" class="b" textLength="28.5" lengthAdjust="spacingAndGlyphs">144.5</text>
<text transform="translate(870.2 680.9) rotate(-90)" font-size="17.3" fill="#4d4d4d" stroke="#4d4d4d" stroke-width="0.30" textLength="27.0" lengthAdjust="spacingAndGlyphs">151.0</text>
<text transform="translate(888.9 680.9) rotate(-90)" font-size="17.3" fill="#4d4d4d" stroke="#4d4d4d" stroke-width="0.30" textLength="27.0" lengthAdjust="spacingAndGlyphs">155.1</text>
<text transform="translate(955.0 682.4) rotate(-90)" font-size="17.3" fill="#111" stroke="#111" stroke-width="0.45" class="b" textLength="28.5" lengthAdjust="spacingAndGlyphs">169.4</text>
<text transform="translate(1056.0 680.9) rotate(-90)" font-size="17.3" fill="#4d4d4d" stroke="#4d4d4d" stroke-width="0.30" textLength="27.0" lengthAdjust="spacingAndGlyphs">191.5</text>
<text transform="translate(1078.2 682.4) rotate(-90)" font-size="17.3" fill="#111" stroke="#111" stroke-width="0.45" class="b" textLength="28.5" lengthAdjust="spacingAndGlyphs">196.4</text>
<text transform="translate(1113.5 682.4) rotate(-90)" font-size="17.3" fill="#111" stroke="#111" stroke-width="0.45" class="b" textLength="28.5" lengthAdjust="spacingAndGlyphs">205.1</text>
<text transform="translate(1127.8 682.4) rotate(-90)" font-size="17.3" fill="#111" stroke="#111" stroke-width="0.45" class="b" textLength="28.5" lengthAdjust="spacingAndGlyphs">207.0</text>
<path d="M161.8 695V707H1120.2V695M450.8 695V707M949.5 695V707" fill="none" stroke="#9c9c9c" stroke-width="1.5"/>
<text x="298.0" y="701.6" font-size="15.6" fill="#a9a9a9" text-anchor="middle" textLength="13.5" lengthAdjust="spacingAndGlyphs">TN</text>
<text x="712.5" y="701.6" font-size="15.6" fill="#a9a9a9" text-anchor="middle" textLength="13.5" lengthAdjust="spacingAndGlyphs">BZ</text>
<text x="1041.3" y="701.6" font-size="15.6" fill="#a9a9a9" text-anchor="middle" textLength="13.5" lengthAdjust="spacingAndGlyphs">SO</text>
<use href="#tun" x="320.4" y="625"/>
<use href="#tun" x="329.3" y="625"/>
<use href="#tun" x="467.0" y="625"/>
<use href="#tun" x="484.5" y="625"/>
<use href="#tun" x="492.0" y="625"/>
<use href="#tun" x="520.5" y="625"/>
<use href="#tun" x="556.2" y="625"/>
<use href="#tun" x="603.0" y="625"/>
<use href="#tun" x="730.5" y="625"/>
<use href="#tun" x="771.2" y="625"/>
<use href="#tun" x="1005.0" y="625"/>
<use href="#tun" x="1014.2" y="625"/>
<use href="#tun" x="1023.2" y="625"/>
<use href="#tun" x="1115.5" y="625"/>
<g transform="translate(817.4 626.2)"><circle r="6.9" fill="#fff" stroke="#222" stroke-width="1.25"/><path d="M-2.3 -6V6M2.3 -6V6M-4.2 -4.2H4.2M-4.6 -1.6H4.6M-4.6 1.2H4.6M-4.2 4H4.2" stroke="#222" stroke-width="1.15" fill="none"/></g>
<use href="#kom" x="228.2" y="601.8"/>
<text x="229.0" y="607.3" font-size="15" font-weight="bold" font-style="italic" fill="#111" stroke="#111" stroke-width="0.7" text-anchor="middle">2</text>
<use href="#kom" x="466.0" y="601.8"/>
<text x="466.8" y="607.3" font-size="15" font-weight="bold" font-style="italic" fill="#111" stroke="#111" stroke-width="0.7" text-anchor="middle">1</text>
<use href="#kom" x="1112.7" y="601.8"/>
<text x="1113.5" y="607.3" font-size="15" font-weight="bold" font-style="italic" fill="#111" stroke="#111" stroke-width="0.7" text-anchor="middle">1</text>
<g transform="translate(949.2 601.6)"><circle r="14" fill="#8fd6d4" stroke="#173a3a" stroke-width="1.4"/><path d="M-10.8 -5.8H10.8L0 12.2Z" fill="#fff"/><path d="M-10.8 -5.8H10.8L0 12.2Z" fill="#8fd6d4" opacity="0.12"/></g>
<text x="949.2" y="606.9" font-size="15" font-weight="bold" fill="#111" stroke="#111" stroke-width="0.5" text-anchor="middle">C</text>
<circle cx="834.5" cy="602.2" r="13.8" fill="url(#gSpr)" stroke="#5a0042" stroke-width="1.1"/>
<text transform="translate(834.4 610.8) skewX(-8) scale(1.02 1)" font-size="22.5" font-weight="bold" font-style="italic" fill="#fff" stroke="#fff" stroke-width="0.6" text-anchor="middle">S</text>
<circle cx="1072.6" cy="602.2" r="13.8" fill="url(#gSpr)" stroke="#5a0042" stroke-width="1.1"/>
<text transform="translate(1072.5 610.8) skewX(-8) scale(1.02 1)" font-size="22.5" font-weight="bold" font-style="italic" fill="#fff" stroke="#fff" stroke-width="0.6" text-anchor="middle">S</text>
<g transform="translate(678.2 601.8)"><circle r="13.8" fill="#ef4a16" stroke="#3a1a10" stroke-width="1.1"/><g transform="translate(0.3 0.2) scale(1.14 1.06)"><path d="M-7.2 -10V-4.6Q-7.2 -2.2 -5.4 -1.6V8.4Q-5.4 9.8 -4 9.8Q-2.6 9.8 -2.6 8.4V-1.6Q-0.8 -2.2 -0.8 -4.6V-10H-1.9V-5H-2.9V-10H-5.1V-5H-6.1V-10Z" fill="#fff"/><path d="M3.2 -10.6H7.9V8.4Q7.9 9.8 6.5 9.8Q5.1 9.8 5.1 8.4V2.6H2.3Q2.3 -6 3.2 -10.6Z" fill="#fff"/></g></g>
<path d="M164.0 458.8V468.0 M196.7 411.9V421.4 M241.4 428.8V439.5 M276.7 478.6V492.8 M293.9 512.3V523.3 M341.8 528.3V538.4 M395.0 478.8V491.2 M488.5 450.7V462.9 M514.9 510.5V521.7 M559.1 537.9V555.0 M596.7 556.7V565.9 M643.6 535.0V543.9 M683.6 529.5V536.0 M732.4 509.0V518.8 M762.6 489.0V500.7 M845.7 439.0V451.9 M863.8 401.2V418.5 M1031.0 439.2V450.8" stroke="#8b8c8c" stroke-width="1.2" fill="none"/>
<path d="M209.1 392.2V406.2 M446.5 389.5V401.7 M815.3 489.0V497.8 M929.4 259.6V273.5 M1053.2 427.1V442.4 M1092.3 359.6V372.3" stroke="#111" stroke-width="1.8" fill="none"/>
<text transform="translate(169.0 451.3) rotate(-90)" font-size="17.2" fill="#4d4d4d" stroke="#4d4d4d" stroke-width="0.30" textLength="179.0" lengthAdjust="spacingAndGlyphs">1126 - Sant&#39;Antonio di Mavignola</text>
<text transform="translate(197.7 402.6) rotate(-90)" font-size="17.2" fill="#4d4d4d" stroke="#4d4d4d" stroke-width="0.30" textLength="157.4" lengthAdjust="spacingAndGlyphs">1514 - Madonna di Campiglio</text>
<text transform="translate(215.8 384.6) rotate(-90)" font-size="18.0" fill="#111" stroke="#111" stroke-width="0.55" class="b" textLength="176.9" lengthAdjust="spacingAndGlyphs">1681 - CAMPO CARLO MAGNO</text>
<text transform="translate(246.8 419.4) rotate(-90)" font-size="17.2" fill="#4d4d4d" stroke="#4d4d4d" stroke-width="0.30" textLength="85.1" lengthAdjust="spacingAndGlyphs">1344 - Folgarida</text>
<text transform="translate(282.0 469.2) rotate(-90)" font-size="17.2" fill="#4d4d4d" stroke="#4d4d4d" stroke-width="0.30" textLength="68.6" lengthAdjust="spacingAndGlyphs">767 - Dimaro</text>
<text transform="translate(299.4 503.9) rotate(-90)" font-size="17.2" fill="#4d4d4d" stroke="#4d4d4d" stroke-width="0.30" textLength="57.3" lengthAdjust="spacingAndGlyphs">714 - Malè</text>
<text transform="translate(347.1 519.9) rotate(-90)" font-size="17.2" fill="#4d4d4d" stroke="#4d4d4d" stroke-width="0.30" textLength="122.1" lengthAdjust="spacingAndGlyphs">594 - Ponte Mostizzolo</text>
<text transform="translate(400.7 471.3) rotate(-90)" font-size="17.2" fill="#4d4d4d" stroke="#4d4d4d" stroke-width="0.30" textLength="62.5" lengthAdjust="spacingAndGlyphs">983 - Rumo</text>
<text transform="translate(447.0 385.5) rotate(-90)" font-size="16.6" fill="#111" stroke="#111" stroke-width="0.55" class="b" textLength="132.4" lengthAdjust="spacingAndGlyphs">1704 - HOFMAHDJOCH</text>
<text transform="translate(461.6 317.9) rotate(-90)" font-size="16.6" fill="#111" stroke="#111" stroke-width="0.55" class="b" textLength="64.6" lengthAdjust="spacingAndGlyphs">P. CASTRIN</text>
<text transform="translate(494.4 442.3) rotate(-90)" font-size="17.2" fill="#4d4d4d" stroke="#4d4d4d" stroke-width="0.30" textLength="113.1" lengthAdjust="spacingAndGlyphs">924 - Bv. per Merano</text>
<text transform="translate(520.9 501.4) rotate(-90)" font-size="17.2" fill="#4d4d4d" stroke="#4d4d4d" stroke-width="0.30" textLength="155.4" lengthAdjust="spacingAndGlyphs">730 - S.Pancrazio/St. Pankraz</text>
<text transform="translate(564.9 530.4) rotate(-90)" font-size="17.2" fill="#4d4d4d" stroke="#4d4d4d" stroke-width="0.30" textLength="56.3" lengthAdjust="spacingAndGlyphs">312 - Lana</text>
<text transform="translate(602.0 548.2) rotate(-90)" font-size="17.2" fill="#4d4d4d" stroke="#4d4d4d" stroke-width="0.30" textLength="102.2" lengthAdjust="spacingAndGlyphs">358 - Foresta/Forst</text>
<text transform="translate(649.2 527.6) rotate(-90)" font-size="17.2" fill="#4d4d4d" stroke="#4d4d4d" stroke-width="0.30" textLength="121.0" lengthAdjust="spacingAndGlyphs">528 - Naturno/Naturns</text>
<text transform="translate(688.7 522.0) rotate(-90)" font-size="17.2" fill="#4d4d4d" stroke="#4d4d4d" stroke-width="0.30" textLength="146.3" lengthAdjust="spacingAndGlyphs">577 - Castelbello/Kastelbell</text>
<text transform="translate(738.0 501.0) rotate(-90)" font-size="17.2" fill="#4d4d4d" stroke="#4d4d4d" stroke-width="0.30" textLength="137.6" lengthAdjust="spacingAndGlyphs">735 - Silandro/Schlanders</text>
<text transform="translate(767.8 481.4) rotate(-90)" font-size="17.2" fill="#4d4d4d" stroke="#4d4d4d" stroke-width="0.30" textLength="85.6" lengthAdjust="spacingAndGlyphs">908 - Lasa/Laas</text>
<text transform="translate(813.4 487.6) rotate(-90)" font-size="16.6" fill="#111" stroke="#111" stroke-width="0.55" class="b" textLength="155.2" lengthAdjust="spacingAndGlyphs">911 - PRATO ALLO STELVIO</text>
<text transform="translate(827.1 480.3) rotate(-90)" font-size="16.6" fill="#111" stroke="#111" stroke-width="0.55" class="b" textLength="148.3" lengthAdjust="spacingAndGlyphs">PRAD AM STILFSERJOCH</text>
<text transform="translate(850.3 432.3) rotate(-90)" font-size="17.2" fill="#4d4d4d" stroke="#4d4d4d" stroke-width="0.30" textLength="85.9" lengthAdjust="spacingAndGlyphs">1266 - Gomagoi</text>
<text transform="translate(869.2 393.1) rotate(-90)" font-size="17.2" fill="#4d4d4d" stroke="#4d4d4d" stroke-width="0.30" textLength="67.5" lengthAdjust="spacingAndGlyphs">1532 - Trafoi</text>
<text transform="translate(926.1 268.2) rotate(-90)" font-size="16.6" fill="#111" stroke="#111" stroke-width="0.55" class="b" textLength="105.8" lengthAdjust="spacingAndGlyphs">2758 - P.D.STELVIO</text>
<text transform="translate(939.6 247.4) rotate(-90)" font-size="16.6" fill="#111" stroke="#111" stroke-width="0.55" class="b" textLength="85.4" lengthAdjust="spacingAndGlyphs">STILFSERJOCH</text>
<text transform="translate(1036.7 431.1) rotate(-90)" font-size="17.2" fill="#4d4d4d" stroke="#4d4d4d" stroke-width="0.30" textLength="86.3" lengthAdjust="spacingAndGlyphs">1260 - Premadio</text>
<text transform="translate(1058.4 417.7) rotate(-90)" font-size="18.0" fill="#111" stroke="#111" stroke-width="0.55" class="b" textLength="190.4" lengthAdjust="spacingAndGlyphs">1345 - ISOLACCIA VALDIDENTRO</text>
<text transform="translate(1096.5 350.7) rotate(-90)" font-size="18.0" fill="#111" stroke="#111" stroke-width="0.55" class="b" textLength="138.0" lengthAdjust="spacingAndGlyphs">1938 - TORRI DI FRAELE</text>
<path d="M99.3 343.5Q99.3 339.4 103.4 339.4H127.1Q131.2 339.4 131.2 343.5V512.7A15.95 15.95 0 0 1 99.3 512.7Z" fill="url(#gGreen)" stroke="#0a9a35" stroke-width="3.8"/>
<circle cx="115.25" cy="512.5" r="13.9" fill="url(#gGc)" stroke="#0a2a10" stroke-width="1.6"/>
<g transform="translate(115.25 512.5)" fill="none" stroke="#fff" stroke-width="1.8">
<circle cx="-7" cy="4.1" r="3.7"/><circle cx="7" cy="4.1" r="3.7"/>
<path d="M-6.2 -7.2Q-5.6 -9 -3 -8.8L3.6 -9Q6 -9.2 6 -7L5.9 -5.6Q5 -4.6 3.6 -5L7.4 -2.2L6 -0.2L2.2 -3L0.9 0.6L2.2 5.4L-1.6 6.2L-2.1 0.4Q-5 -0.6 -5.4 -2.4Q-6.6 -5 -6.2 -7.2Z" fill="#fff" stroke="none"/></g>
<text transform="translate(123.2 489.9) rotate(-90)" font-size="23.1" fill="#111" stroke="#111" stroke-width="0.85" class="b" textLength="138.9" lengthAdjust="spacingAndGlyphs">818 - PINZOLO</text>
<circle cx="1158.2" cy="434.4" r="18.3" fill="#ec0010"/>
<rect x="1132.75" y="144" width="51.2" height="291.3" rx="3.6" ry="3.6" fill="url(#gRed)" stroke="#ec0010" stroke-width="3.7"/>
<circle cx="1158.2" cy="434.3" r="13.6" fill="url(#gRc)" stroke="#0c2016" stroke-width="1.9"/>
<g transform="translate(1158.2 434.3)" fill="none" stroke="#fff" stroke-width="1.7">
<circle cx="-6.8" cy="4.9" r="3.3" stroke-width="1.9"/><circle cx="7" cy="4.5" r="3.3" stroke-width="1.9"/><path d="M-6.7 4.9L-1 1.2L7 4.5M-1 1.2L3 4.8" stroke-width="1.2"/>
<path d="M-3.8 -12.6Q-1.4 -14.4 0.6 -12.6Q2.4 -11 1.4 -8.6Q3 -6.4 1.4 -4.4Q0.6 -2.6 2.6 -1.2L6.2 1L4.6 3L0.4 0.8L0.8 5.2L-1.8 5.2L-2.2 0Q-5.6 -2 -4.4 -5.8Q-5.2 -9.4 -3.8 -12.6Z" fill="#fff" stroke="none"/></g>
<text transform="translate(1157.2 412.3) rotate(-90)" font-size="22.8" fill="#111" stroke="#111" stroke-width="0.85" class="b" textLength="257.2" lengthAdjust="spacingAndGlyphs">1945 - LAGHI DI CANCANO</text>
<text transform="translate(1173.5 412.8) rotate(-90)" font-size="17.4" fill="#111" stroke="#111" stroke-width="0.75" class="b" textLength="218.6" lengthAdjust="spacingAndGlyphs">Parco Nazionale dello Stelvio</text>
<text transform="translate(1143.3 585.4) rotate(-90)" font-size="14.0" fill="#111" stroke="#111" stroke-width="0.70" class="b" textLength="36.0" lengthAdjust="spacingAndGlyphs">SΔS</text>
</svg></body></html>
